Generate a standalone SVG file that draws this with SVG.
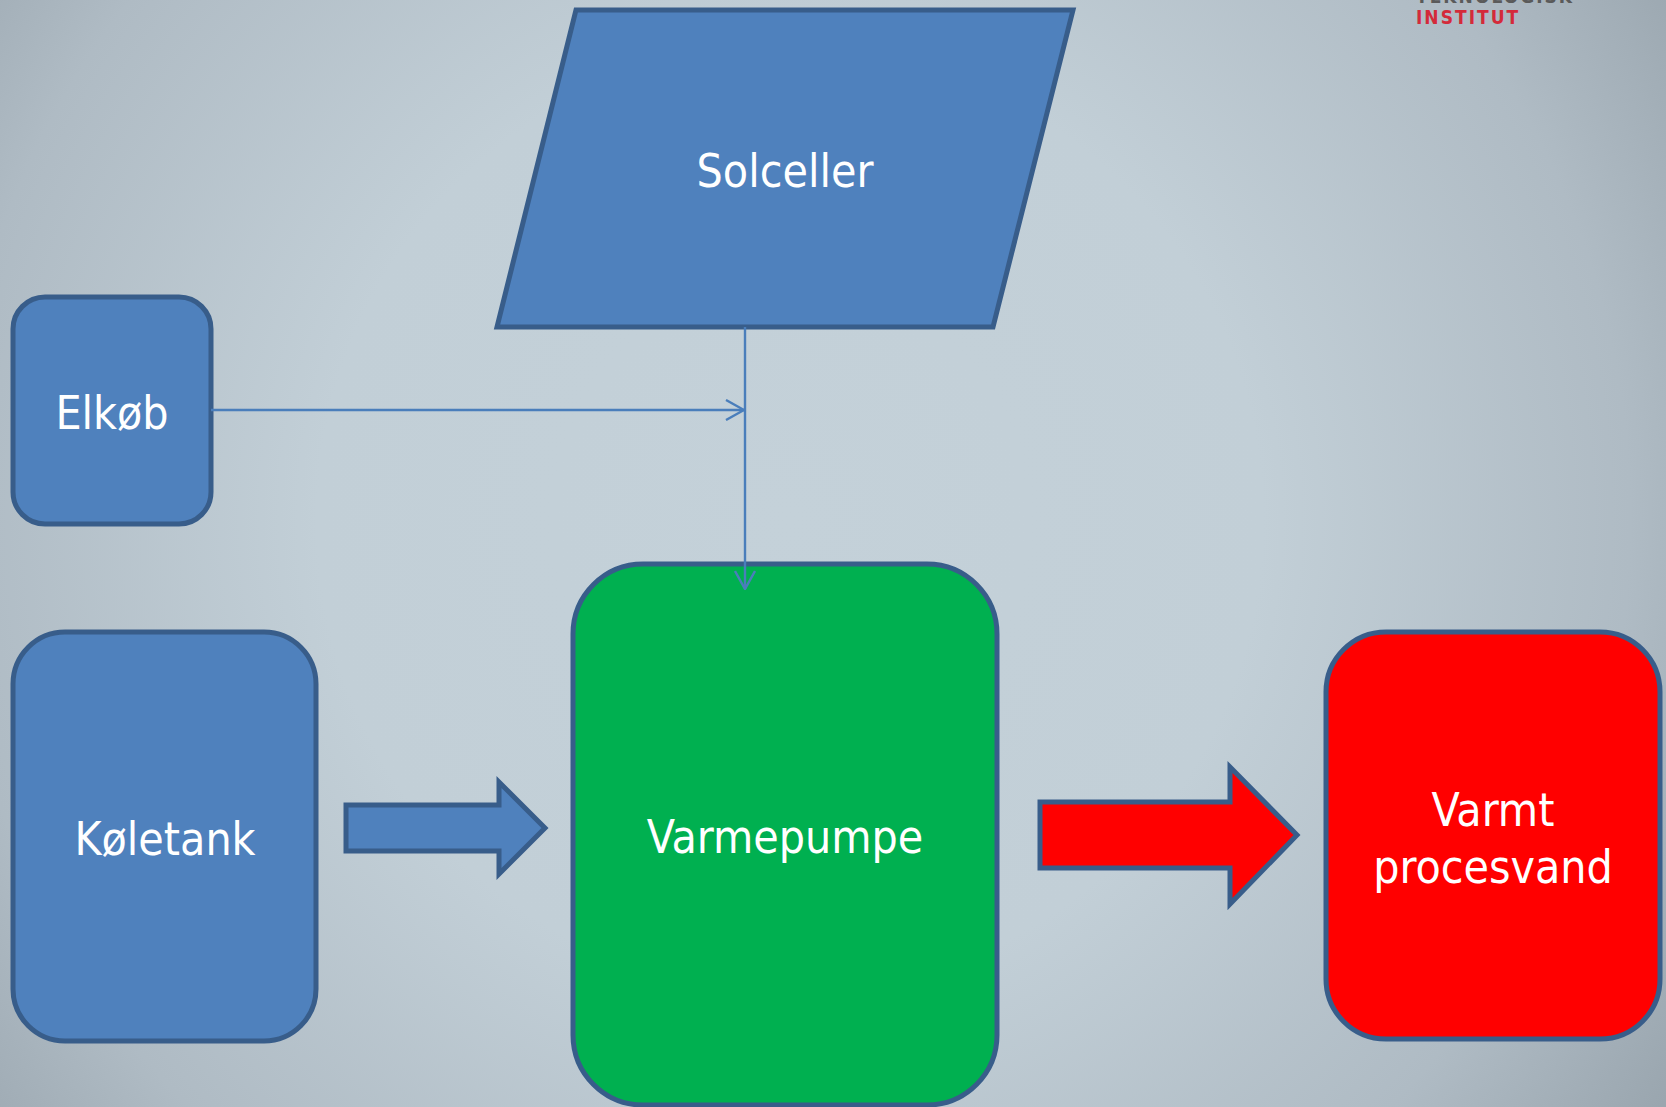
<svg xmlns="http://www.w3.org/2000/svg" width="1666" height="1107" viewBox="0 0 1666 1107">
<defs>
<radialGradient id="bg" cx="790" cy="520" r="1050" gradientUnits="userSpaceOnUse">
<stop offset="0" stop-color="#c4d1d9"/>
<stop offset="0.45" stop-color="#c2cfd7"/>
<stop offset="0.8" stop-color="#afbbc4"/>
<stop offset="1" stop-color="#9aa6af"/>
</radialGradient>
<marker id="open" viewBox="0 0 20 22" refX="19" refY="11" markerWidth="20" markerHeight="22" markerUnits="userSpaceOnUse" orient="auto">
<path d="M1,1 L19,11 L1,21" fill="none" stroke="#4a7ebb" stroke-width="2.4"/>
</marker>
<style>
.shape{stroke:#385d8a;stroke-width:5;stroke-linejoin:miter}
.blue{fill:#4f81bd}
.green{fill:#00b050}
.red{fill:#ff0000}
.lbl{font-family:"DejaVu Sans Condensed","DejaVu Sans",sans-serif;fill:#ffffff;text-anchor:middle;font-size:46px}
.conn{stroke:#4a7ebb;stroke-width:2.4;fill:none}
</style>
</defs>
<rect width="1666" height="1107" fill="url(#bg)"/>
<g id="logo" font-family="DejaVu Sans Condensed,DejaVu Sans,sans-serif" font-weight="bold">
<text x="1416" y="3" font-size="19" fill="#5a5a5a" letter-spacing="2">TEKNOLOGISK</text>
<text x="1416" y="24" font-size="19" fill="#d42a3a" letter-spacing="2">INSTITUT</text>
</g>
<g id="solceller">
<polygon class="shape blue" points="576,10 1073,10 993,327 497,327"/>
<text class="lbl" x="785" y="187">Solceller</text>
</g>
<g id="elkoeb">
<rect class="shape blue" x="13" y="297" width="198" height="227" rx="32"/>
<text class="lbl" x="112" y="429">Elkøb</text>
</g>
<g id="koeletank">
<rect class="shape blue" x="13" y="632" width="303" height="409" rx="52"/>
<text class="lbl" x="165" y="855">Køletank</text>
</g>
<g id="varmepumpe">
<rect class="shape green" x="573" y="564" width="424" height="541" rx="70"/>
<text class="lbl" x="785" y="853">Varmepumpe</text>
</g>
<g id="varmt">
<rect class="shape red" x="1326" y="632" width="334" height="407" rx="60"/>
<text class="lbl" x="1493" y="826">Varmt</text>
<text class="lbl" x="1493" y="883">procesvand</text>
</g>
<g id="connectors">
<polygon class="shape blue" points="346,805 499,805 499,782 545,828 499,874 499,851 346,851"/>
<polygon class="shape red" points="1040,802 1230,802 1230,767 1297,835 1230,904 1230,868 1040,868"/>
<line class="conn" x1="745" y1="327" x2="745" y2="589" marker-end="url(#open)"/>
<line class="conn" x1="211" y1="410" x2="744" y2="410" marker-end="url(#open)"/>
</g>
</svg>
